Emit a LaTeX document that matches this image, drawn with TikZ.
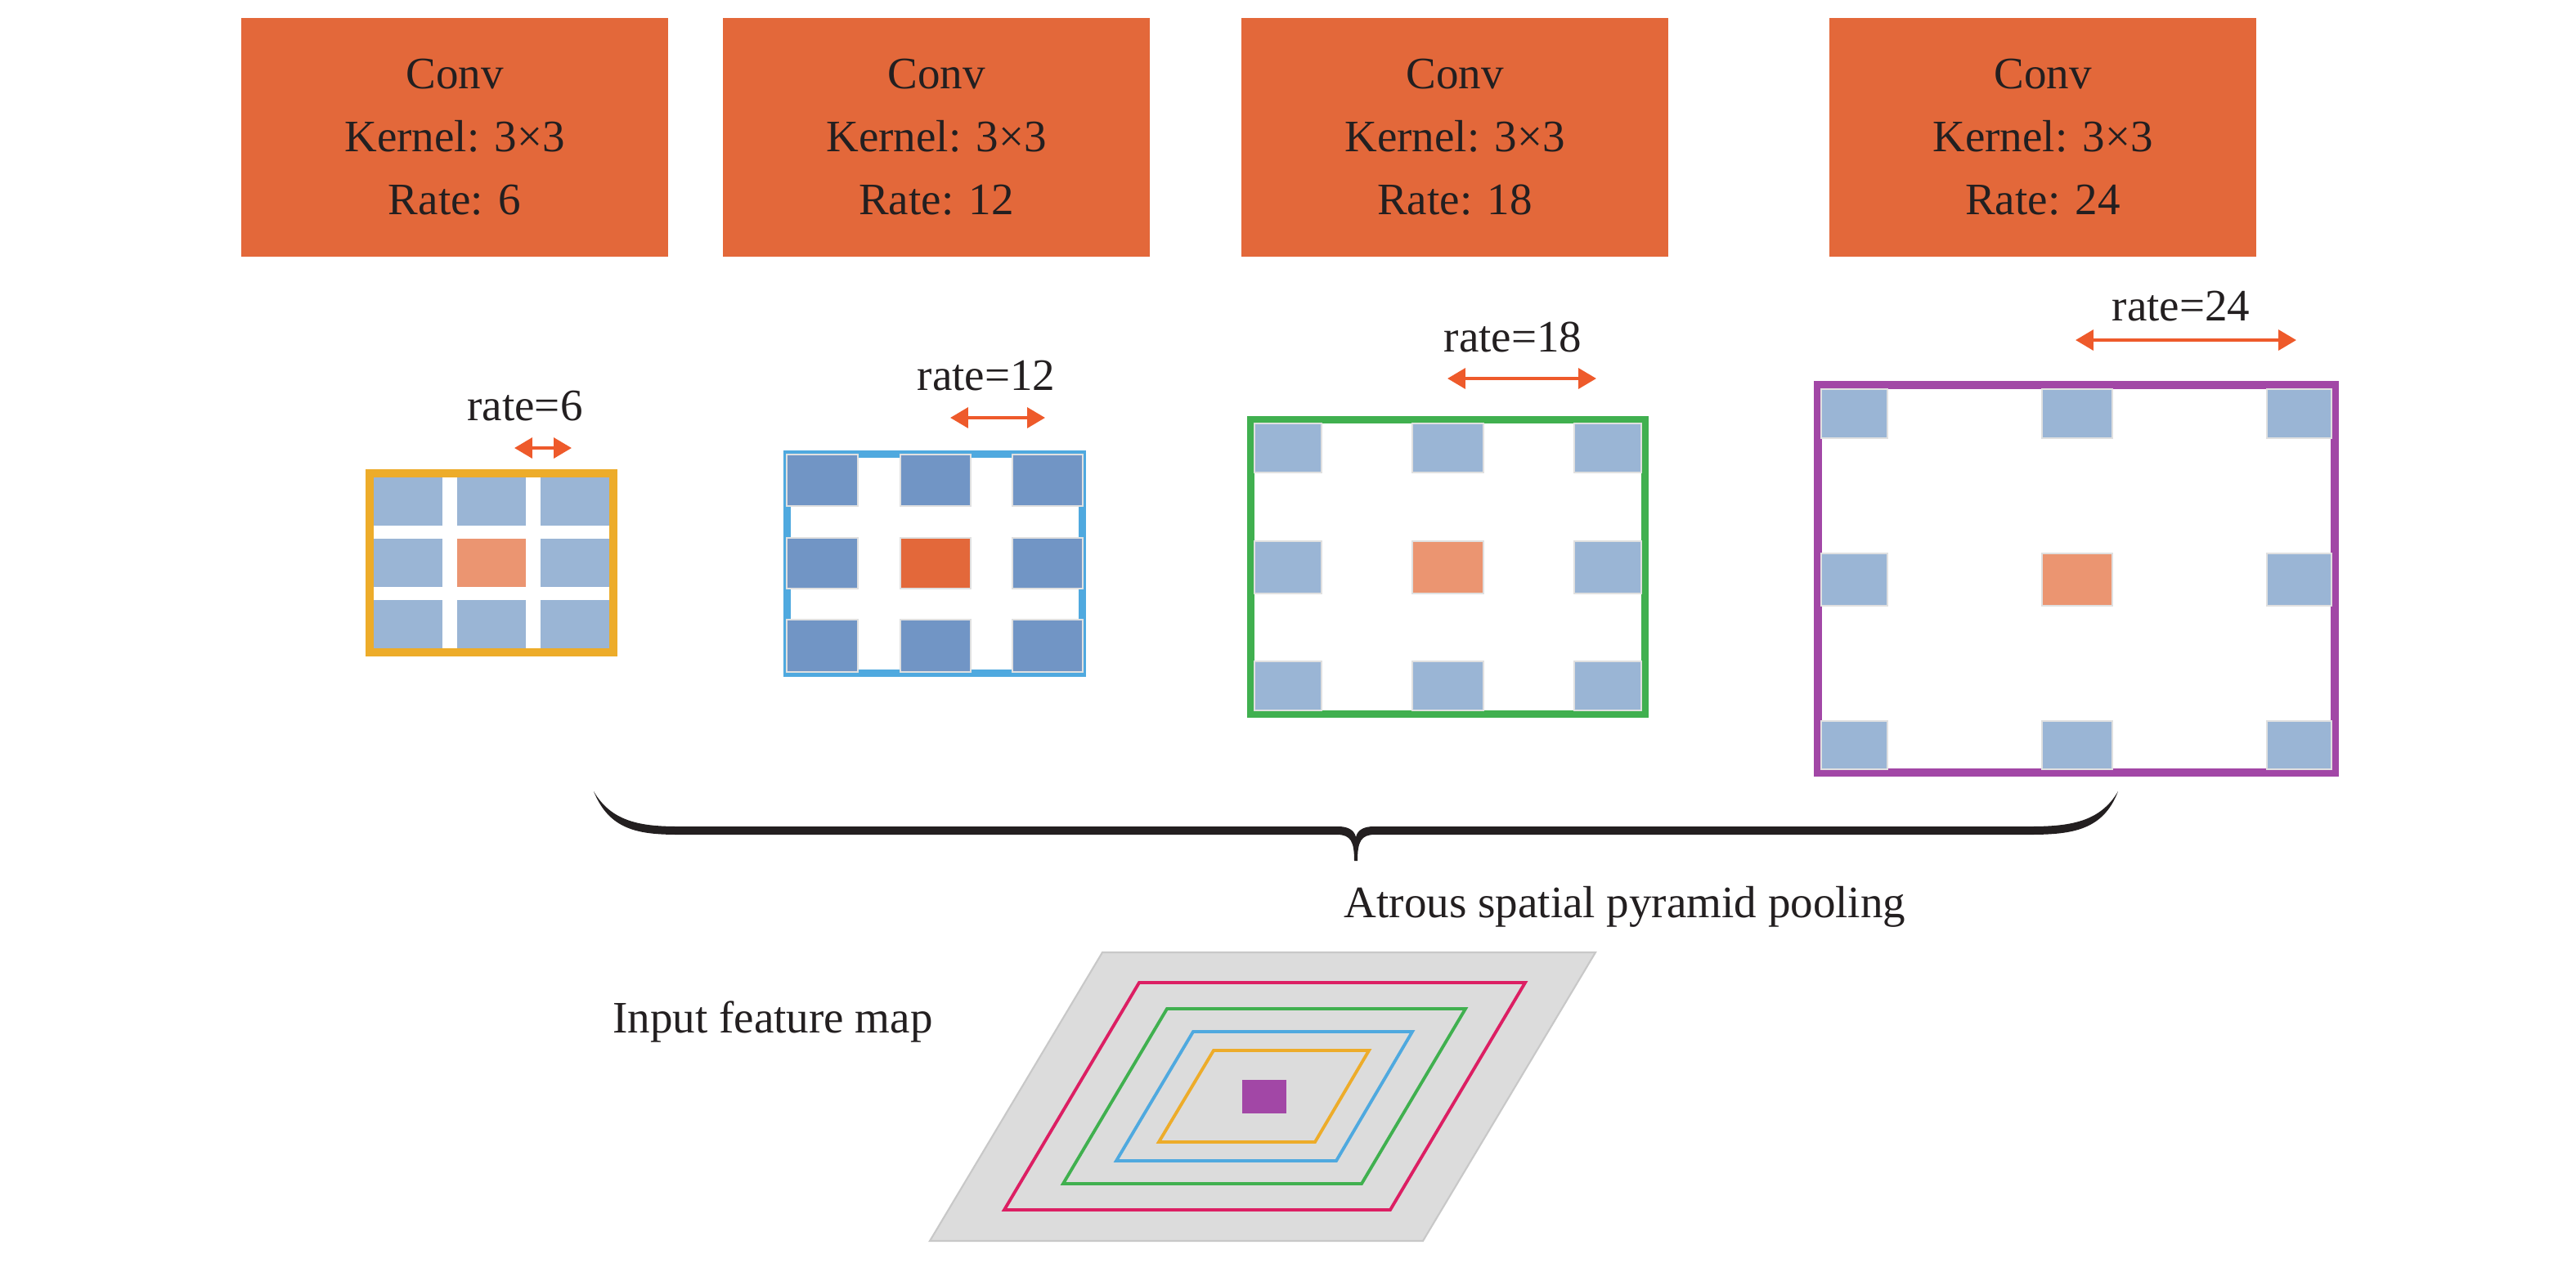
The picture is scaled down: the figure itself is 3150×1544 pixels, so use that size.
\documentclass[tikz,border=0pt]{standalone}
\usepackage{fontspec}
\setmainfont{Liberation Serif}
\usetikzlibrary{arrows.meta}
\definecolor{convor}{HTML}{E3683A}
\definecolor{txt}{HTML}{231F20}
\definecolor{arr}{HTML}{EE5A2B}
\definecolor{fyel}{HTML}{EDAC2A}
\definecolor{fblue}{HTML}{4FA9DF}
\definecolor{fgreen}{HTML}{40B04F}
\definecolor{fpurp}{HTML}{A247A6}
\definecolor{fpink}{HTML}{DC1F63}
\definecolor{cellL}{HTML}{9AB5D5}
\definecolor{cellD}{HTML}{7195C5}
\definecolor{ctrL}{HTML}{EB9571}
\definecolor{gmap}{HTML}{DCDCDC}
\definecolor{gedge}{HTML}{C8C8C8}
\tikzset{
  convbox/.style={fill=convor, minimum width=5.21cm, minimum height=2.91cm, align=center, inner sep=0pt, text=txt},
  lbl/.style={inner sep=0pt, text=txt},
  ratearrow/.style={draw=arr, line width=1.15pt, {Triangle[width=7pt,length=6.2pt]}-{Triangle[width=7pt,length=6.2pt]}},
  cellbox/.style={draw=white!88!black, line width=0.3pt},
  framebox/.style={line width=2.8pt},
  ring/.style={line width=1.1pt}
}
\begin{document}
\begin{tikzpicture}[x=0.01cm,y=-0.01cm,font=\fontsize{15.65}{21.9}\selectfont]
\useasboundingbox (0,0) rectangle (3150,1544);

% Conv boxes
\node[convbox] (c1) at (556,168) {Conv\\Kernel: 3\texttimes3\\Rate: 6};
\node[convbox] (c2) at (1145,168) {Conv\\Kernel: 3\texttimes3\\Rate: 12};
\node[convbox] (c3) at (1779,168) {Conv\\Kernel: 3\texttimes3\\Rate: 18};
\node[convbox] (c4) at (2498,168) {Conv\\Kernel: 3\texttimes3\\Rate: 24};

% rate labels and arrows
\node[lbl] (r6) at (642,497) {rate=6};
\coordinate (a6l) at (629,548); \coordinate (a6r) at (699,548);
\draw[ratearrow] (a6l) -- (a6r);
\node[lbl] (r12) at (1206,460) {rate=12};
\coordinate (a12l) at (1162,511); \coordinate (a12r) at (1278,511);
\draw[ratearrow] (a12l) -- (a12r);
\node[lbl] (r18) at (1850,412) {rate=18};
\coordinate (a18l) at (1770,463); \coordinate (a18r) at (1952,463);
\draw[ratearrow] (a18l) -- (a18r);
\node[lbl] (r24) at (2667,375) {rate=24};
\coordinate (a24l) at (2538,416); \coordinate (a24r) at (2808,416);
\draw[ratearrow] (a24l) -- (a24r);

% Grid 1 (rate 6)
\draw[framebox, draw=fyel] (452,579) rectangle (750,798);
\foreach \xa/\xb in {457/541,559/643,661/745}
  \foreach \ya/\yb in {584/643,659/718,734/793}
    \fill[cellL] (\xa,\ya) rectangle (\xb,\yb);
\fill[ctrL] (559,659) rectangle (643,718);

% Grid 2 (rate 12)
\draw[framebox, draw=fblue] (962.5,555.5) rectangle (1323.5,823.5);
\foreach \xa/\xb in {962/1049,1101/1187,1238/1324}
  \foreach \ya/\yb in {556/619,658/720,758/822}
    \draw[cellbox, fill=cellD] (\xa,\ya) rectangle (\xb,\yb);
\draw[cellbox, fill=convor] (1101,658) rectangle (1187,720);

% Grid 3 (rate 18)
\draw[framebox, draw=fgreen] (1529.5,513.5) rectangle (2011.5,873.5);
\foreach \xa/\xb in {1534/1616,1727/1814,1925/2007}
  \foreach \ya/\yb in {518/578,662/726,809/869}
    \draw[cellbox, fill=cellL] (\xa,\ya) rectangle (\xb,\yb);
\draw[cellbox, fill=ctrL] (1727,662) rectangle (1814,726);

% Grid 4 (rate 24)
\draw[framebox, draw=fpurp] (2223,471) rectangle (2855,945);
\foreach \xa/\xb in {2227/2308,2497/2583,2772/2851}
  \foreach \ya/\yb in {476/536,677/741,882/941}
    \draw[cellbox, fill=cellL] (\xa,\ya) rectangle (\xb,\yb);
\draw[cellbox, fill=ctrL] (2497,677) rectangle (2583,741);

% Brace
\fill[txt] (726,968) .. controls (745,1015) and (780,1021) .. (830,1021)
  -- (1635,1021) .. controls (1652,1021) and (1656,1030) .. (1656,1053)
  -- (1660,1053) .. controls (1660,1030) and (1664,1021) .. (1681,1021)
  -- (2482,1021) .. controls (2535,1021) and (2572,1015) .. (2590,968)
  .. controls (2568,1006) and (2530,1011) .. (2482,1011)
  -- (1680,1011) .. controls (1668,1011) and (1660,1015) .. (1658,1024)
  .. controls (1656,1015) and (1648,1011) .. (1636,1011)
  -- (830,1011) .. controls (785,1011) and (748,1006) .. (726,968) -- cycle;

\node[lbl] (aspp) at (1987,1109) {Atrous spatial pyramid pooling};

% Input feature map
\node[lbl] (ifm) at (945,1250) {Input feature map};
\draw[fill=gmap, draw=gedge, line width=0.6pt] (1348,1165) -- (1951,1165) -- (1740,1518) -- (1137,1518) -- cycle;
\draw[ring, draw=fpink] (1393,1202) -- (1865,1202) -- (1700,1480) -- (1228,1480) -- cycle;
\draw[ring, draw=fgreen] (1427,1234) -- (1792,1234) -- (1665,1448) -- (1300,1448) -- cycle;
\draw[ring, draw=fblue] (1459,1262) -- (1727,1262) -- (1634,1420) -- (1365,1420) -- cycle;
\draw[ring, draw=fyel] (1484,1285) -- (1674,1285) -- (1608,1397) -- (1417,1397) -- cycle;
\fill[fpurp] (1519,1321) rectangle (1573,1362);
\end{tikzpicture}
\end{document}
